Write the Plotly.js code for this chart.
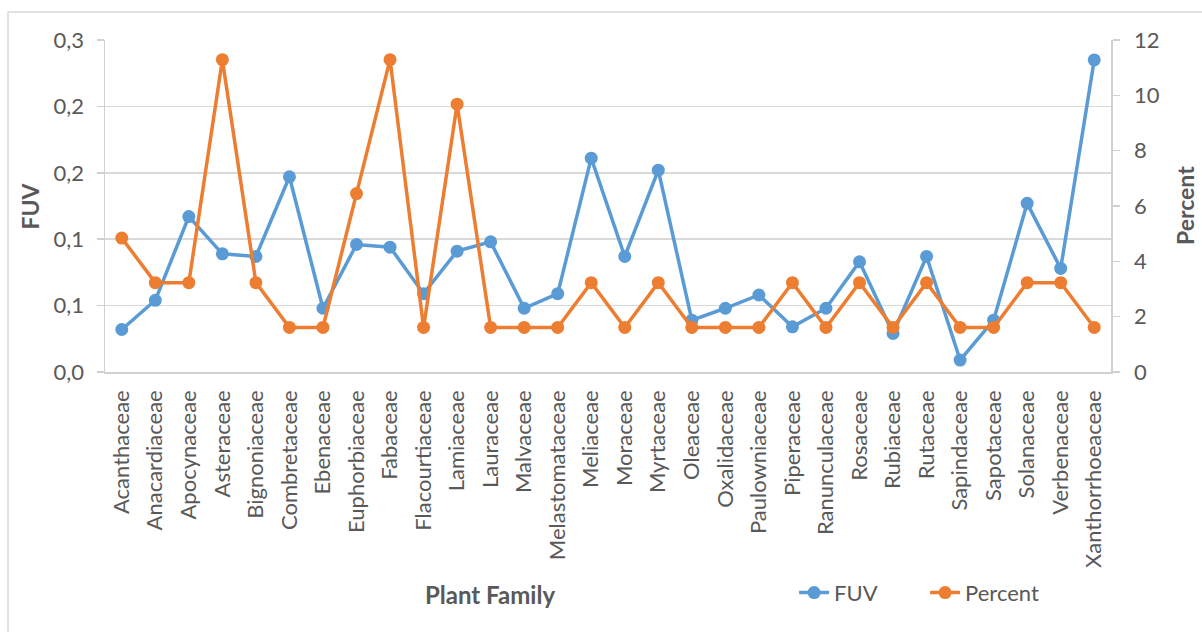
<!DOCTYPE html>
<html>
<head>
<meta charset="utf-8">
<script src="https://cdn.plot.ly/plotly-3.0.1.min.js"></script>
<style>
  html, body { margin: 0; padding: 0; background: #ffffff; }
  #chart { width: 1202px; height: 632px; }
</style>
</head>
<body>
<div id="chart"></div>
<script>
// Plant families on the category axis
const families = [
  "Acanthaceae", "Anacardiaceae", "Apocynaceae", "Asteraceae", "Bignoniaceae",
  "Combretaceae", "Ebenaceae", "Euphorbiaceae", "Fabaceae", "Flacourtiaceae",
  "Lamiaceae", "Lauraceae", "Malvaceae", "Melastomataceae", "Meliaceae",
  "Moraceae", "Myrtaceae", "Oleaceae", "Oxalidaceae", "Paulowniaceae",
  "Piperaceae", "Ranunculaceae", "Rosaceae", "Rubiaceae", "Rutaceae",
  "Sapindaceae", "Sapotaceae", "Solanaceae", "Verbenaceae", "Xanthorrhoeaceae"
];

// Family use value (left axis)
const fuv = [
  0.032, 0.054, 0.117, 0.089, 0.087,
  0.147, 0.048, 0.096, 0.094, 0.059,
  0.091, 0.098, 0.048, 0.059, 0.161,
  0.087, 0.152, 0.039, 0.048, 0.058,
  0.034, 0.048, 0.083, 0.029, 0.087,
  0.009, 0.039, 0.127, 0.078, 0.235
];

// Share of species per family, in percent (right axis)
const percent = [
  4.84, 3.23, 3.23, 11.29, 3.23,
  1.61, 1.61, 6.45, 11.29, 1.61,
  9.68, 1.61, 1.61, 1.61, 3.23,
  1.61, 3.23, 1.61, 1.61, 1.61,
  3.23, 1.61, 3.23, 1.61, 3.23,
  1.61, 1.61, 3.23, 3.23, 1.61
];

// Left axis ticks, shown with one decimal and a decimal comma
const fuvTickVals = [0, 0.05, 0.1, 0.15, 0.2, 0.25];
const fuvTickText = ["0,0", "0,1", "0,1", "0,2", "0,2", "0,3"];

// Right axis ticks
const pctTickVals = [0, 2, 4, 6, 8, 10, 12];
const pctTickText = ["0", "2", "4", "6", "8", "10", "12"];

const BLUE = "#5B9BD5";
const ORANGE = "#ED7D31";
const TEXT = "#595959";
const GRID = "#D9D9D9";
const FONT = "Lato, 'Open Sans', sans-serif";

const traces = [
  {
    type: "scatter",
    mode: "lines+markers",
    name: "FUV",
    x: families,
    y: fuv,
    yaxis: "y",
    line: { color: BLUE, width: 3.5 },
    marker: { color: BLUE, size: 13 }
  },
  {
    type: "scatter",
    mode: "lines+markers",
    name: "Percent",
    x: families,
    y: percent,
    yaxis: "y2",
    line: { color: ORANGE, width: 3.5 },
    marker: { color: ORANGE, size: 13 }
  }
];

const layout = {
  width: 1202,
  height: 632,
  paper_bgcolor: "#ffffff",
  plot_bgcolor: "#ffffff",
  margin: { l: 105, r: 91, t: 40, b: 260 },
  font: { family: FONT, size: 22, color: TEXT },
  showlegend: true,
  legend: {
    orientation: "h",
    x: 0.685, xanchor: "left",
    y: -0.665, yanchor: "middle",
    font: { family: FONT, size: 22, color: TEXT },
    itemwidth: 30,
    entrywidth: 86,
    entrywidthmode: "pixels",
    traceorder: "normal",
    bgcolor: "rgba(0,0,0,0)"
  },
  xaxis: {
    type: "category",
    range: [-0.5, families.length - 0.5],
    tickangle: -90,
    ticks: "",
    showline: true,
    linecolor: "#D0D0D0",
    linewidth: 1.5,
    showgrid: false,
    tickfont: { family: FONT, size: 22, color: TEXT },
    ticklabelstandoff: 8,
    fixedrange: true
  },
  yaxis: {
    range: [0, 0.25],
    tickvals: fuvTickVals,
    ticktext: fuvTickText,
    ticks: "outside",
    ticklen: 7,
    tickcolor: "#D0D0D0",
    tickwidth: 1.5,
    showline: true,
    linecolor: "#D0D0D0",
    linewidth: 1.5,
    showgrid: true,
    gridcolor: GRID,
    gridwidth: 1.5,
    zeroline: false,
    tickfont: { family: FONT, size: 22, color: TEXT },
    ticklabelstandoff: 8,
    fixedrange: true
  },
  yaxis2: {
    overlaying: "y",
    side: "right",
    range: [0, 12],
    tickvals: pctTickVals,
    ticktext: pctTickText,
    ticks: "outside",
    ticklen: 7,
    tickcolor: "#D0D0D0",
    tickwidth: 1.5,
    showline: true,
    linecolor: "#D0D0D0",
    linewidth: 1.5,
    showgrid: false,
    zeroline: false,
    tickfont: { family: FONT, size: 22, color: TEXT },
    ticklabelstandoff: 10,
    fixedrange: true
  },
  annotations: [
    {
      text: "<b>Plant Family</b>",
      xref: "paper", yref: "paper",
      x: 0.383, y: -0.67,
      xanchor: "center", yanchor: "middle",
      showarrow: false,
      font: { family: FONT, size: 24, color: TEXT }
    },
    {
      text: "<b>FUV</b>",
      xref: "paper", yref: "paper",
      x: -0.075, y: 0.5,
      xanchor: "center", yanchor: "middle",
      textangle: -90,
      showarrow: false,
      font: { family: FONT, size: 23, color: TEXT }
    },
    {
      text: "<b>Percent</b>",
      xref: "paper", yref: "paper",
      x: 1.0736, y: 0.5,
      xanchor: "center", yanchor: "middle",
      textangle: -90,
      showarrow: false,
      font: { family: FONT, size: 23, color: TEXT }
    }
  ],
  shapes: [
    {
      // chart frame
      type: "rect",
      xref: "paper", yref: "paper",
      x0: -0.0964, x1: 1.1,
      y0: -0.81, y1: 1.0843,
      line: { color: GRID, width: 1.5 },
      fillcolor: "rgba(0,0,0,0)",
      layer: "below"
    }
  ]
};

Plotly.newPlot("chart", traces, layout, { displayModeBar: false, staticPlot: true });
</script>
</body>
</html>
